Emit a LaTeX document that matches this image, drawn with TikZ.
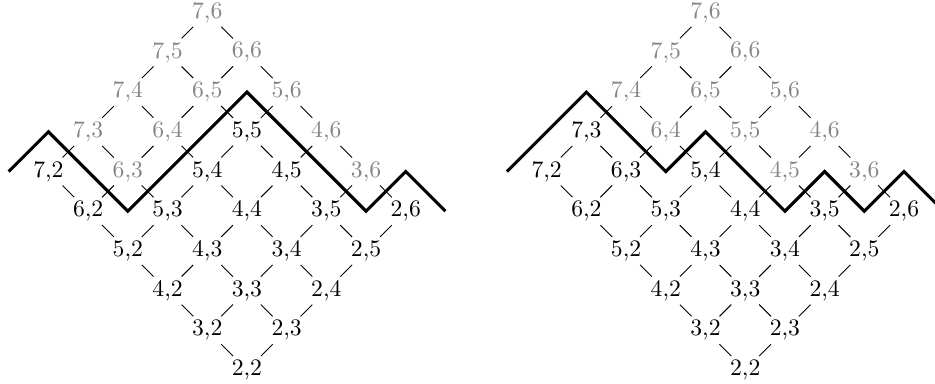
\documentclass[tikz,border=0pt]{standalone}
\begin{document}
\begin{tikzpicture}[x=0.59cm,y=0.59cm,
  lbl/.style={inner sep=1.4pt},
  dim/.style={lbl,text=black!48},
  edge/.style={line width=0.4pt},
  pathline/.style={line width=1.3pt}]
\useasboundingbox (-6.22,-0.33) rectangle (17.33,9.32);
% left lattice
\foreach \i/\j in {7/2,6/2,5/2,4/2,3/2,2/2,5/3,4/3,3/3,2/3,5/4,4/4,3/4,2/4,5/5,4/5,3/5,2/5,2/6}
  \node[lbl] (L-\i-\j) at ({\j-\i},{\i+\j-4}) {\i,\j};
\foreach \i/\j in {7/6,7/5,6/6,7/4,6/5,5/6,7/3,6/4,4/6,6/3,3/6}
  \node[dim] (L-\i-\j) at ({\j-\i},{\i+\j-4}) {\i,\j};
% right lattice
\foreach \i/\j in {7/2,6/2,5/2,4/2,3/2,2/2,7/3,6/3,5/3,4/3,3/3,2/3,5/4,4/4,3/4,2/4,3/5,2/5,2/6}
  \node[lbl] (R-\i-\j) at ({12.55+\j-\i},{\i+\j-4}) {\i,\j};
\foreach \i/\j in {7/6,7/5,6/6,7/4,6/5,5/6,6/4,5/5,4/6,4/5,3/6}
  \node[dim] (R-\i-\j) at ({12.55+\j-\i},{\i+\j-4}) {\i,\j};
% edges
\foreach \s in {L,R}
  \foreach \i in {2,...,7}
    \foreach \j in {2,...,6}{
      \pgfmathtruncatemacro\kk{\i-1}
      \pgfmathtruncatemacro\mm{\j-1}
      \ifnum\i>2 \draw[edge] (\s-\i-\j) -- (\s-\kk-\j);\fi
      \ifnum\j>2 \draw[edge] (\s-\i-\j) -- (\s-\i-\mm);\fi
    }
% thick paths
\draw[pathline] (-6,5) -- (-5,6) -- (-3,4) -- (0,7) -- (3,4) -- (4,5) -- (5,4);
\begin{scope}[xshift=12.55*0.59cm]
\draw[pathline] (-6,5) -- (-4,7) -- (-2,5) -- (-1,6) -- (1,4) -- (2,5) -- (3,4) -- (4,5) -- (5,4);
\end{scope}
\end{tikzpicture}
\end{document}
